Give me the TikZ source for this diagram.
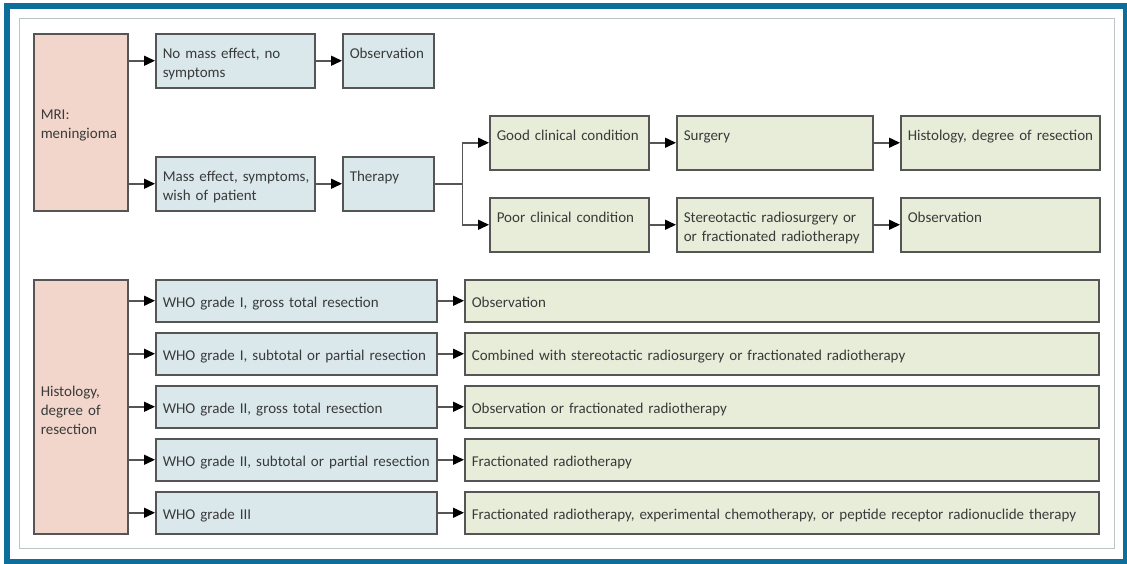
\documentclass[tikz,border=0pt]{standalone}
\usepackage{fontspec}
\setmainfont{Carlito}[WordSpace=0.8]
\usetikzlibrary{arrows.meta}
\definecolor{frameblue}{RGB}{14,110,155}
\definecolor{pinkbox}{RGB}{242,214,204}
\definecolor{bluebox}{RGB}{218,232,236}
\definecolor{greenbox}{RGB}{232,237,218}
\definecolor{edgegray}{RGB}{85,85,85}
\definecolor{textgray}{RGB}{58,58,58}
\definecolor{rulegray}{RGB}{188,198,198}
\hyphenpenalty=10000
\exhyphenpenalty=10000

\begin{document}
\begin{tikzpicture}[x=1pt, y=-1pt,
    every node/.style={font=\fontsize{15}{19}\selectfont, text=textgray},
    box/.style={draw=edgegray, line width=1.5pt, anchor=north west, inner xsep=7pt, inner ysep=0pt, align=left},
    topbox/.style={box, text height=25pt, text depth=29pt},
    sidebox/.style={box, fill=pinkbox, minimum height=#1, text width=80pt, text height=17pt},
    rowbox/.style={box, minimum height=42pt, text height=13pt, text depth=0pt},
    arr/.style={draw=edgegray, line width=1.5pt, -{Triangle[length=11pt, width=10pt, black]}}]
    \useasboundingbox (0,0) rectangle (1127,563);
    \fill[white] (0,0) rectangle (1127,563);
    \draw[frameblue, line width=6pt] (7,6) rectangle (1126,562);
    \draw[rulegray, line width=1pt] (19,18) rectangle (1114,548);

    \node[sidebox=177pt] (mri) at (33,33) {MRI:\\meningioma};
    \node[topbox, fill=bluebox, text width=145pt] (nomass) at (155,33) {No mass effect, no\\symptoms};
    \node[topbox, fill=bluebox, text width=77pt] (obsA) at (342,33) {Observation};
    \node[topbox, fill=bluebox, text width=145pt] (mass) at (155,156) {\mbox{Mass effect, symptoms,}\\wish of patient};
    \node[topbox, fill=bluebox, text width=77pt] (therapy) at (342,156) {Therapy};
    \node[topbox, fill=greenbox, text width=145pt] (good) at (489,115) {Good clinical condition};
    \node[topbox, fill=greenbox, text width=182pt] (surgery) at (676,115) {Surgery};
    \node[topbox, fill=greenbox, text width=185pt] (histA) at (900,115) {\mbox{Histology, degree of resection}};
    \node[topbox, fill=greenbox, text width=145pt] (poor) at (489,197) {Poor clinical condition};
    \node[topbox, fill=greenbox, text width=182pt] (stereo) at (676,197) {Stereotactic radiosurgery or\\or fractionated radiotherapy};
    \node[topbox, fill=greenbox, text width=185pt] (obsB) at (900,197) {Observation};
    \path (therapy.east) ++(28,0) coordinate (fork);

    \draw[arr] (mri.east |- nomass.west) -- (nomass.west);
    \draw[arr] (nomass.east) -- (obsA.west);
    \draw[arr] (mri.east |- mass.west) -- (mass.west);
    \draw[arr] (mass.east) -- (therapy.west);
    \draw[arr] (therapy.east) -- (fork) |- (good.west);
    \draw[arr] (fork) |- (poor.west);
    \draw[arr] (good.east) -- (surgery.west);
    \draw[arr] (surgery.east) -- (histA.west);
    \draw[arr] (poor.east) -- (stereo.west);
    \draw[arr] (stereo.east) -- (obsB.west);

    \node[sidebox=254pt] (histB) at (33,279) {Histology,\\degree of\\resection};
    \foreach \i/\grade/\plan in {0/{WHO grade I, gross total resection}/{Observation},
        1/{WHO grade I, subtotal or partial resection}/{Combined with stereotactic radiosurgery or fractionated radiotherapy},
        2/{WHO grade II, gross total resection}/{Observation or fractionated radiotherapy},
        3/{WHO grade II, subtotal or partial resection}/{Fractionated radiotherapy},
        4/{WHO grade III}/{Fractionated radiotherapy, experimental chemotherapy, or peptide receptor radionuclide therapy}} {
      \node[rowbox, fill=bluebox, text width=267pt] (who\i) at (155,{279+53*\i}) {\grade};
      \node[rowbox, fill=greenbox, text width=620pt] (plan\i) at (464,{279+53*\i}) {\plan};
      \draw[arr] (histB.east |- who\i.west) -- (who\i.west);
      \draw[arr] (who\i.east) -- (plan\i.west);
    }
\end{tikzpicture}
\end{document}
